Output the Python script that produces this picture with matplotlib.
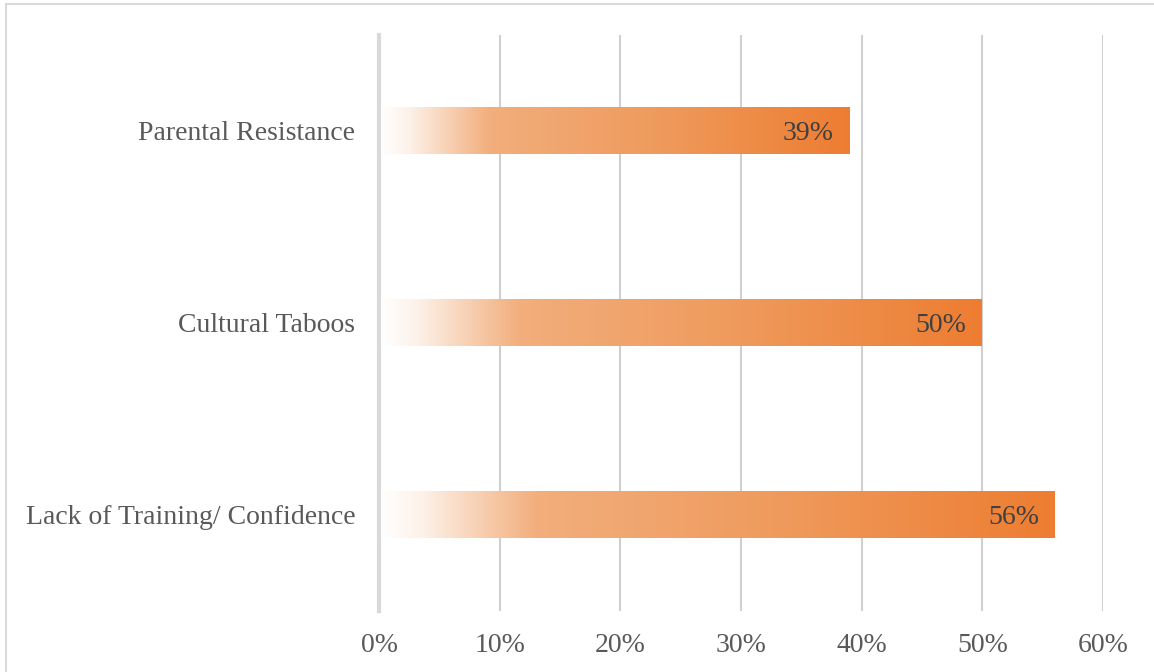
import matplotlib
matplotlib.use("Agg")
import matplotlib.pyplot as plt
import numpy as np
from matplotlib.colors import LinearSegmentedColormap
from matplotlib.patches import Rectangle
from matplotlib.ticker import PercentFormatter

categories = ["Lack of Training/ Confidence", "Cultural Taboos", "Parental Resistance"]
values = [0.56, 0.50, 0.39]
ticks = [0, 0.1, 0.2, 0.3, 0.4, 0.5, 0.6]

plt.rcParams["font.family"] = ["Liberation Serif", "DejaVu Serif"]

# white -> light orange -> Excel orange, stretched over each bar
grad = LinearSegmentedColormap.from_list(
    "orange_fade",
    [(0.0, "#ffffff"), (0.06, "#fdf1e8"), (0.23, "#f2ae7c"),
     (0.6, "#ef9a5c"), (1.0, "#ed7d31")])

fig = plt.figure(figsize=(11.54, 6.72), dpi=100)
fig.patches.append(Rectangle((6 / 1154, -0.1), 1.2, 1 - 4 / 672 + 0.1,
                             transform=fig.transFigure, fill=False,
                             edgecolor="#d9d9d9", linewidth=1.5))

ax = fig.add_axes([379 / 1154, 1 - 611 / 672, (1103 - 379) / 1154, (611 - 35) / 672])
y = np.arange(len(categories))
bars = ax.barh(y, values, height=0.24, facecolor="none", edgecolor="none", zorder=3)

strip = np.linspace(0, 1, 256).reshape(1, -1)
for bar, v in zip(bars, values):
    x0, y0 = bar.get_x(), bar.get_y()
    w, h = bar.get_width(), bar.get_height()
    ax.imshow(strip, cmap=grad, aspect="auto", extent=(x0 + 0.002, x0 + w, y0, y0 + h),
              origin="lower", zorder=3, interpolation="bilinear")
    ax.text(x0 + w - 0.013, y0 + h / 2, f"{v:.0%}", ha="right", va="center_baseline",
            fontsize=20, color="#404040", zorder=4)

ax.set_xlim(0, 0.6)
ax.set_ylim(-0.5, len(categories) - 0.5)
ax.set_xticks(ticks)
ax.xaxis.set_major_formatter(PercentFormatter(1.0, decimals=0))
ax.set_yticks(y)
ax.set_yticklabels(categories)
ax.tick_params(axis="both", length=0, labelsize=20, colors="#595959")
ax.tick_params(axis="x", pad=16)
ax.tick_params(axis="y", pad=17)
for lbl in ax.get_yticklabels():
    lbl.set_verticalalignment("center_baseline")

ax.grid(axis="x", color="#d0d0d0", linewidth=1.5, zorder=0)
ax.set_axisbelow(True)
for side in ["top", "right", "bottom"]:
    ax.spines[side].set_visible(False)
ax.spines["left"].set_color("#d9d9d9")
ax.spines["left"].set_linewidth(3)

fig.savefig("out.png", dpi=100)
